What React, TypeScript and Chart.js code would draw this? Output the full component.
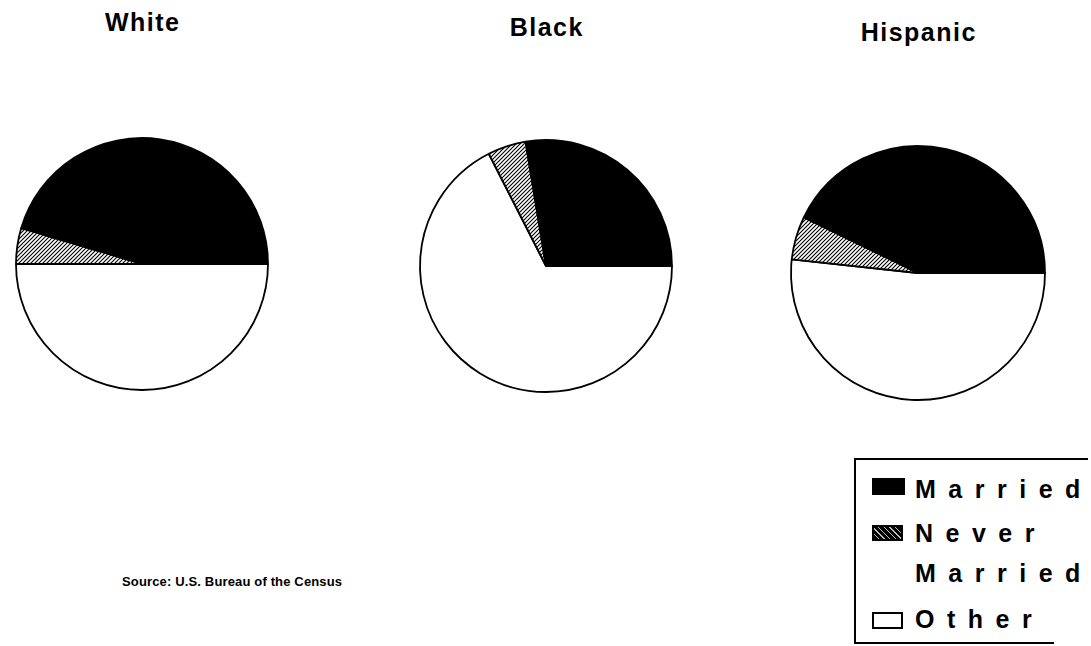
import React, { useEffect, useRef } from "react";
import { Chart, registerables } from "chart.js";

Chart.register(...registerables);

// ---- Data ----
const groups = ["White", "Black", "Hispanic"];
const categories = ["Married", "Never Married", "Other"];
const whiteValues = [45.4, 4.6, 50.0];
const blackValues = [27.6, 4.9, 67.5];
const hispanicValues = [42.8, 5.5, 51.7];
const sourceText = "Source: U.S. Bureau of the Census";

const groupValues = [whiteValues, blackValues, hispanicValues];

// layout (positions only)
const pieLayout = [
  { cx: 142, cy: 264, r: 126, titleTop: 10 },
  { cx: 546, cy: 266, r: 126, titleTop: 15 },
  { cx: 918, cy: 273, r: 127, titleTop: 20 },
];

const FONT = "'Liberation Sans', Arial, Helvetica, sans-serif";

function makeHatch(): CanvasPattern | string {
  const c = document.createElement("canvas");
  c.width = 4;
  c.height = 4;
  const g = c.getContext("2d");
  if (!g) return "#888";
  g.fillStyle = "#fff";
  g.fillRect(0, 0, 4, 4);
  g.strokeStyle = "#000";
  g.lineWidth = 1.1;
  g.beginPath();
  g.moveTo(0, 4);
  g.lineTo(4, 0);
  g.moveTo(-1, 1);
  g.lineTo(1, -1);
  g.moveTo(3, 5);
  g.lineTo(5, 3);
  g.stroke();
  return g.createPattern(c, "repeat") || "#888";
}

const Pie: React.FC<{ values: number[]; cx: number; cy: number; r: number }> = ({ values, cx, cy, r }) => {
  const ref = useRef<HTMLCanvasElement>(null);
  const size = 2 * r + 16;
  useEffect(() => {
    if (!ref.current) return;
    const hatch = makeHatch();
    const colorFor: Record<string, any> = {
      Married: "#000",
      "Never Married": hatch,
      Other: "#fff",
    };
    // drawn clockwise from 3 o'clock: Other, Never Married, Married
    const order = [2, 1, 0];
    const chart = new Chart(ref.current, {
      type: "pie",
      data: {
        labels: order.map((i) => categories[i]),
        datasets: [
          {
            data: order.map((i) => values[i]),
            backgroundColor: order.map((i) => colorFor[categories[i]]),
            borderColor: "#000",
            borderWidth: 1.8,
            hoverOffset: 0,
            offset: 0,
          },
        ],
      },
      options: {
        responsive: false,
        animation: false,
        events: [],
        rotation: 90,
        radius: r,
        layout: { padding: 0 },
        plugins: {
          legend: { display: false },
          tooltip: { enabled: false },
          title: { display: false },
        },
      },
    });
    return () => chart.destroy();
  }, [values, r]);
  return (
    <canvas
      ref={ref}
      width={size}
      height={size}
      style={{ position: "absolute", left: cx - size / 2, top: cy - size / 2, width: size, height: size }}
    />
  );
};

const legendText: React.CSSProperties = {
  position: "absolute",
  left: 915,
  fontFamily: FONT,
  fontWeight: "bold",
  fontSize: 25,
  lineHeight: "25px",
  letterSpacing: 12.5,
  color: "#000",
  whiteSpace: "nowrap",
};

export default function App() {
  return (
    <div
      style={{
        position: "fixed",
        left: 0,
        top: 0,
        width: 1091,
        height: 646,
        background: "#fff",
        overflow: "hidden",
        fontFamily: FONT,
      }}
    >
      {groups.map((g, i) => (
        <div
          key={g}
          style={{
            position: "absolute",
            left: pieLayout[i].cx - 100,
            width: 200,
            top: pieLayout[i].titleTop,
            textAlign: "center",
            fontWeight: "bold",
            fontSize: 25,
            lineHeight: "25px",
            letterSpacing: 1.5,
            paddingLeft: 1.5,
            boxSizing: "border-box",
          }}
        >
          {g}
        </div>
      ))}
      {groups.map((g, i) => (
        <Pie key={g} values={groupValues[i]} cx={pieLayout[i].cx} cy={pieLayout[i].cy} r={pieLayout[i].r} />
      ))}
      <div
        style={{
          position: "absolute",
          left: 122,
          top: 575,
          fontWeight: "bold",
          fontSize: 13,
          lineHeight: "13px",
          letterSpacing: 0.15,
          whiteSpace: "nowrap",
        }}
      >
        {sourceText}
      </div>

      {/* Legend box: left, top and bottom edges (right edge is cut off) */}
      <div style={{ position: "absolute", left: 854, top: 458, width: 2, height: 186, background: "#000" }} />
      <div style={{ position: "absolute", left: 854, top: 458, width: 234, height: 2, background: "#000" }} />
      <div style={{ position: "absolute", left: 854, top: 642, width: 200, height: 2, background: "#000" }} />

      <div style={{ position: "absolute", left: 872, top: 478, width: 33, height: 17, background: "#000" }} />
      <div style={{ ...legendText, top: 477 }}>{categories[0]}</div>
      <div
        style={{
          position: "absolute",
          left: 872,
          top: 525,
          width: 31,
          height: 16,
          boxSizing: "border-box",
          border: "2px solid #000",
          background: "repeating-linear-gradient(45deg, #000 0px, #000 3px, #bbb 3px, #bbb 4px)",
        }}
      />
      <div style={{ ...legendText, top: 521, lineHeight: "40px", marginTop: -8 }}>
        {categories[1].split(" ")[0]}
        <br />
        {categories[1].split(" ")[1]}
      </div>
      <div
        style={{
          position: "absolute",
          left: 872,
          top: 612,
          width: 31,
          height: 17,
          boxSizing: "border-box",
          border: "2px solid #000",
          background: "#fff",
        }}
      />
      <div style={{ ...legendText, top: 607 }}>{categories[2]}</div>
    </div>
  );
}
